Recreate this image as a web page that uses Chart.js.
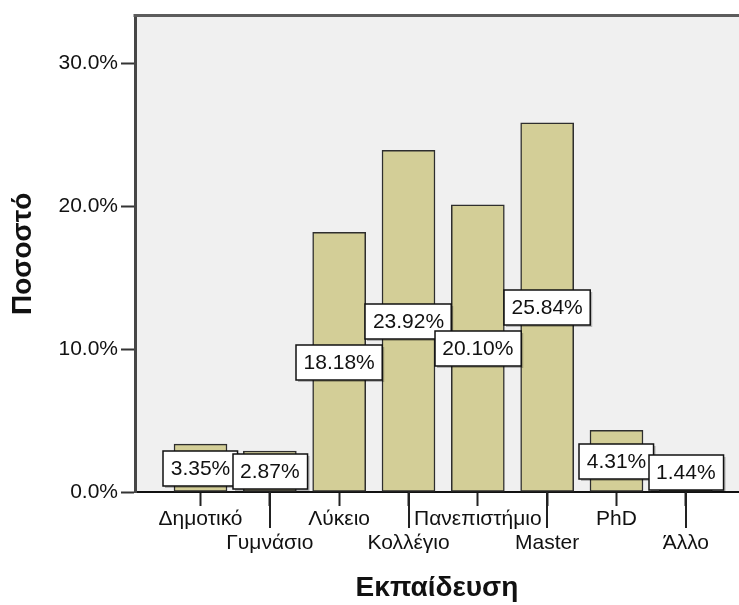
<!DOCTYPE html>
<html>
<head>
<meta charset="utf-8">
<script src="https://cdn.jsdelivr.net/npm/chart.js@4.4.1/dist/chart.umd.min.js"></script>
<style>
  body { margin: 0; background: #fff; }
  #wrap { width: 739px; height: 605px; }
</style>
</head>
<body>
<div id="wrap"><canvas id="chart" width="739" height="605"></canvas></div>
<script>
const categories = ["Δημοτικό", "Γυμνάσιο", "Λύκειο", "Κολλέγιο", "Πανεπιστήμιο", "Master", "PhD", "Άλλο"];
const percents = [3.35, 2.87, 18.18, 23.92, 20.10, 25.84, 4.31, 1.44];
const yTicks = [0, 10, 20, 30];

const FONT = "'Liberation Sans', Arial, sans-serif";

// gray plot background + top border
const plotFrame = {
  id: "plotFrame",
  beforeDraw(chart) {
    const { ctx, chartArea: a } = chart;
    ctx.save();
    ctx.fillStyle = "#f0f0f0";
    ctx.fillRect(a.left, a.top, a.right - a.left, a.bottom - a.top);
    ctx.restore();
  },
  afterDraw(chart) {
    const { ctx, chartArea: a, scales } = chart;
    ctx.save();
    ctx.strokeStyle = "#5c5c5c";
    ctx.lineWidth = 3;
    ctx.beginPath();
    ctx.moveTo(a.left - 1.5, a.top);
    ctx.lineTo(a.right, a.top);
    ctx.stroke();
    // longer ticks for the second label row
    ctx.strokeStyle = "#222";
    ctx.lineWidth = 2;
    categories.forEach((c, i) => {
      if (i % 2 === 1) {
        const x = Math.round(scales.x.getPixelForValue(i));
        ctx.beginPath();
        ctx.moveTo(x, a.bottom);
        ctx.lineTo(x, a.bottom + 36);
        ctx.stroke();
      }
    });
    ctx.restore();
  }
};

// white boxed value labels at half bar height
const valueBoxes = {
  id: "valueBoxes",
  afterDatasetsDraw(chart) {
    const { ctx, scales } = chart;
    const meta = chart.getDatasetMeta(0);
    ctx.save();
    ctx.font = "21px " + FONT;
    ctx.textAlign = "center";
    ctx.textBaseline = "middle";
    meta.data.forEach((bar, i) => {
      const v = percents[i];
      const txt = v.toFixed(2) + "%";
      const w = ctx.measureText(txt).width + 15;
      const h = 35;
      const cy = Math.min(scales.y.getPixelForValue(v / 2), 472);
      const x0 = Math.round(bar.x - w / 2), y0 = Math.round(cy - h / 2);
      ctx.fillStyle = "rgba(0,0,0,0.25)";
      ctx.fillRect(x0 + 2, y0 + 2, w, h);
      ctx.fillStyle = "#fff";
      ctx.fillRect(x0, y0, w, h);
      ctx.strokeStyle = "#111";
      ctx.lineWidth = 1.5;
      ctx.strokeRect(x0, y0, w, h);
      ctx.fillStyle = "#111";
      ctx.fillText(txt, bar.x, cy + 1);
    });
    ctx.restore();
  }
};

new Chart(document.getElementById("chart"), {
  type: "bar",
  data: {
    datasets: [{
      data: percents.map((v, i) => ({ x: i, y: v })),
      backgroundColor: "#d3ce97",
      borderColor: "#2e2e2e",
      borderWidth: 1.5,
      borderSkipped: false,
      barThickness: 53
    }]
  },
  options: {
    responsive: false,
    animation: false,
    layout: { padding: { top: 14, left: 0, right: 0, bottom: 0 } },
    plugins: { legend: { display: false }, tooltip: { enabled: false } },
    scales: {
      x: {
        type: "linear",
        offset: false,
        min: -0.945,
        max: 7.767,
        afterBuildTicks(scale) { scale.ticks = categories.map((c, i) => ({ value: i })); },
        afterFit(scale) { scale.height = 113; },
        ticks: {
          autoSkip: false,
          maxRotation: 0,
          padding: 1,
          color: "#111",
          font: { family: FONT, size: 21, lineHeight: 1.15 },
          callback: (v) => (v % 2 === 1 ? ["", categories[v]] : categories[v])
        },
        grid: { offset: false, drawOnChartArea: false, tickLength: 14, tickColor: "#222", tickWidth: 2 },
        border: { color: "#111", width: 2 },
        title: {
          display: true,
          text: "Εκπαίδευση",
          color: "#111",
          font: { family: FONT, size: 28, weight: "bold" },
          padding: { top: 0, bottom: 0 }
        }
      },
      y: {
        min: 0,
        max: 33.35,
        afterBuildTicks(scale) { scale.ticks = yTicks.map(v => ({ value: v })); },
        afterFit(scale) { scale.width = 135; },
        ticks: {
          padding: 3,
          color: "#111",
          font: { family: FONT, size: 21 },
          callback: (v) => v.toFixed(1) + "%"
        },
        grid: { drawOnChartArea: false, tickLength: 14, tickColor: "#333", tickWidth: 2 },
        border: { color: "#464646", width: 3 },
        title: {
          display: true,
          text: "Ποσοστό",
          color: "#111",
          font: { family: FONT, size: 28, weight: "bold" },
          padding: { top: 6, bottom: 0 }
        }
      }
    }
  },
  plugins: [plotFrame, valueBoxes]
});
</script>
</body>
</html>
